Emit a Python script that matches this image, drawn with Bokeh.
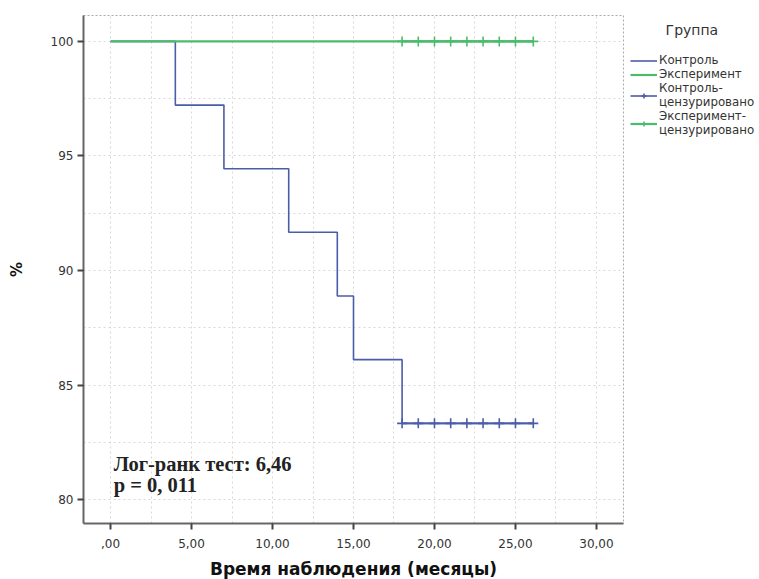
from bokeh.plotting import figure
from bokeh.models import (Range1d, FixedTicker, Legend, LegendItem, Label)
from bokeh.embed import file_html
from bokeh.resources import INLINE

# ---- data ----
ctrl_time = [0, 4, 7, 11, 14, 15, 18, 26.1]
ctrl_surv = [100, 97.22, 94.44, 91.67, 88.89, 86.11, 83.33, 83.33]
ctrl_cens_time = [18.0, 19.0, 20.0, 21.0, 22.0, 23.0, 24.0, 25.0, 26.1]
ctrl_cens_surv = [83.33] * 9

exp_time = [0, 26.1]
exp_surv = [100, 100]
exp_cens_time = [18.0, 19.0, 20.0, 21.0, 22.0, 23.0, 24.0, 25.0, 26.1]
exp_cens_surv = [100] * 9

x_ticks = [0, 5, 10, 15, 20, 25, 30]
x_tick_labels = [",00", "5,00", "10,00", "15,00", "20,00", "25,00", "30,00"]
y_ticks = [80, 85, 90, 95, 100]
grid_x = [0, 2.5, 5, 7.5, 10, 12.5, 15, 17.5, 20, 22.5, 25, 27.5, 30]
grid_y = [80, 82.5, 85, 87.5, 90, 92.5, 95, 97.5, 100]

legend_title = "Группа"
legend_labels = ["Контроль", "Эксперимент", "Контроль-\nцензурировано", "Эксперимент-\nцензурировано"]
stat_line1 = "Лог-ранк тест: 6,46"
stat_line2 = "p = 0, 011"

BLUE = "#4b5ca8"
GREEN = "#4cbb6c"

p = figure(frame_width=540, frame_height=508, output_backend="svg", toolbar_location=None,
           x_range=Range1d(-1.67, 31.67), y_range=Range1d(78.96, 101.13),
           min_border_left=83, min_border_right=4, min_border_top=15, min_border_bottom=52,
           background_fill_color="white", border_fill_color="white")

p.outline_line_color = "#aaaaaa"
p.outline_line_dash = "2 2"
p.outline_line_width = 1

# grid
p.xgrid.ticker = FixedTicker(ticks=grid_x)
p.ygrid.ticker = FixedTicker(ticks=grid_y)
for g in (p.xgrid, p.ygrid):
    g.grid_line_color = "#d8d8d8"
    g.grid_line_dash = "2 3"
    g.grid_line_width = 1

# axes
p.xaxis.ticker = FixedTicker(ticks=x_ticks)
p.xaxis.major_label_overrides = {t: l for t, l in zip(x_ticks, x_tick_labels)}
p.yaxis.ticker = FixedTicker(ticks=y_ticks)
for ax in (p.xaxis, p.yaxis):
    ax.axis_line_color = "#666666"
    ax.axis_line_width = 2
    ax.major_tick_line_color = "#444444"
    ax.major_tick_line_width = 2
    ax.major_tick_out = 6
    ax.major_tick_in = 0
    ax.minor_tick_line_color = None
    ax.major_label_text_font = "DejaVu Sans"
    ax.major_label_text_font_size = "12px"
    ax.major_label_text_color = "#333333"
    ax.axis_label_text_font = "DejaVu Sans"
    ax.axis_label_text_font_style = "bold"
    ax.axis_label_text_color = "#111111"
p.xaxis.axis_label = "Время наблюдения (месяцы)"
p.xaxis.axis_label_text_font_size = "17px"
p.xaxis.major_label_standoff = 9
p.xaxis.axis_label_standoff = 8
p.yaxis.axis_label = "%"
p.yaxis.axis_label_text_font_size = "15px"
p.yaxis.major_label_standoff = 4
p.yaxis.axis_label_standoff = 22

# curves
r_ctrl = p.step(ctrl_time, ctrl_surv, mode="after", line_color=BLUE, line_width=1.6)
r_exp = p.step(exp_time, exp_surv, mode="after", line_color=GREEN, line_width=2.2)
r_ctrl_c = p.scatter(ctrl_cens_time, ctrl_cens_surv, marker="cross", size=10,
                     line_color=BLUE, line_width=1.6)
r_exp_c = p.scatter(exp_cens_time, exp_cens_surv, marker="cross", size=10,
                    line_color=GREEN, line_width=1.6)
# lines through the censored points (coincide with the curves) for legend icons
r_ctrl_l = p.line(ctrl_cens_time, ctrl_cens_surv, line_color=BLUE, line_width=1.6)
r_exp_l = p.line(exp_cens_time, exp_cens_surv, line_color=GREEN, line_width=2.2)

NB = "\u00a0" * 8
legend = Legend(items=[
    LegendItem(label=legend_labels[0], renderers=[r_ctrl]),
    LegendItem(label=legend_labels[1], renderers=[r_exp]),
    LegendItem(label=legend_labels[2], renderers=[r_ctrl_l, r_ctrl_c]),
    LegendItem(label=legend_labels[3], renderers=[r_exp_l, r_exp_c]),
], location="top_left")
legend.title = NB + legend_title
legend.title_text_font = "DejaVu Sans"
legend.title_text_font_size = "14px"
legend.title_text_font_style = "normal"
legend.title_text_color = "#333333"
legend.title_standoff = 15
legend.label_text_font = "DejaVu Sans"
legend.label_text_font_size = "11.8px"
legend.label_text_color = "#333333"
legend.label_height = 12
legend.glyph_height = 13
legend.glyph_width = 27
legend.label_standoff = 2
legend.spacing = 0
legend.padding = 0
legend.margin = 7
legend.border_line_color = None
legend.background_fill_alpha = 0
p.add_layout(legend, "right")

p.add_layout(Label(x=0.19, y=81.57, text=stat_line1, text_font="Liberation Serif",
                   text_font_style="bold", text_font_size="20.5px", text_baseline="middle",
                   text_color="#222222"))
p.add_layout(Label(x=0.19, y=80.65, text=stat_line2, text_font="Liberation Serif",
                   text_font_style="bold", text_font_size="20.5px", text_baseline="middle",
                   text_color="#222222"))

open("out.html", "w").write(file_html(p, INLINE))
